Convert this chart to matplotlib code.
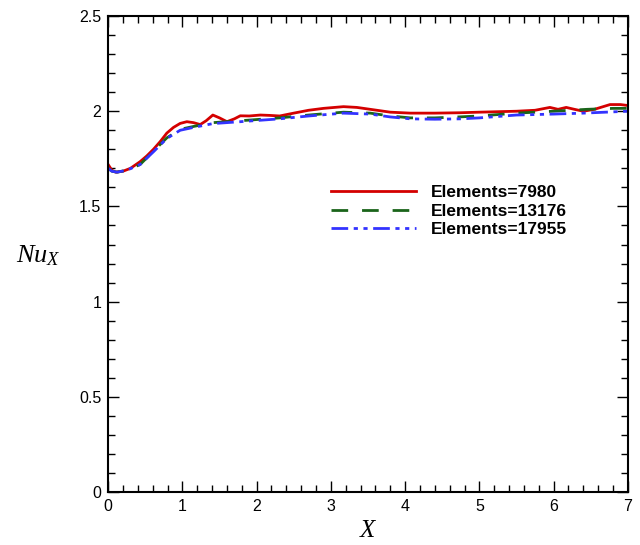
import matplotlib
matplotlib.use('Agg')
import matplotlib.pyplot as plt
from matplotlib.ticker import MultipleLocator

# data
x_7980 = [0.0, 0.05, 0.1, 0.2, 0.3, 0.43, 0.52, 0.61, 0.7, 0.79, 0.88, 0.97, 1.06, 1.15,
          1.24, 1.32, 1.41, 1.5, 1.6, 1.7, 1.78, 1.9, 2.05, 2.18, 2.31, 2.5, 2.7, 2.9,
          3.17, 3.35, 3.53, 3.8, 4.07, 4.4, 4.74, 5.0, 5.5, 5.75, 5.95, 6.06, 6.17,
          6.28, 6.4, 6.55, 6.76, 6.9, 7.0]
y_7980 = [1.72, 1.69, 1.68, 1.685, 1.70, 1.735, 1.765, 1.80, 1.84, 1.885, 1.915, 1.936,
          1.945, 1.94, 1.93, 1.95, 1.98, 1.965, 1.945, 1.96, 1.976, 1.975, 1.98, 1.978,
          1.975, 1.99, 2.005, 2.015, 2.024, 2.02, 2.01, 1.995, 1.99, 1.99, 1.992, 1.995,
          2.0, 2.005, 2.02, 2.01, 2.02, 2.01, 2.0, 2.01, 2.035, 2.035, 2.03]

x_13176 = [0.0, 0.05, 0.12, 0.25, 0.43, 0.61, 0.79, 0.97, 1.15, 1.41, 1.78, 2.31, 2.7,
           3.17, 3.53, 3.8, 4.07, 4.4, 4.72, 5.0, 5.5, 6.0, 6.45, 6.8, 7.0]
y_13176 = [1.70, 1.685, 1.68, 1.69, 1.72, 1.79, 1.86, 1.905, 1.92, 1.94, 1.95, 1.965,
           1.98, 1.995, 1.99, 1.975, 1.965, 1.965, 1.97, 1.975, 1.99, 2.0, 2.01, 2.015,
           2.015]

x_17955 = [0.0, 0.05, 0.12, 0.25, 0.43, 0.61, 0.79, 0.97, 1.15, 1.41, 1.78, 2.31, 2.7,
           3.17, 3.53, 3.8, 4.07, 4.4, 4.74, 5.0, 5.5, 6.0, 6.4, 7.0]
y_17955 = [1.70, 1.685, 1.68, 1.69, 1.72, 1.787, 1.857, 1.90, 1.915, 1.935, 1.945, 1.96,
           1.975, 1.99, 1.985, 1.97, 1.96, 1.958, 1.96, 1.965, 1.98, 1.985, 1.99, 2.0]

x_ticks = [0, 1, 2, 3, 4, 5, 6, 7]
y_ticks = [0, 0.5, 1, 1.5, 2, 2.5]
y_tick_labels = ['0', '0.5', '1', '1.5', '2', '2.5']

plt.rcParams['font.family'] = ['Liberation Sans', 'DejaVu Sans']
plt.rcParams['mathtext.fontset'] = 'custom'
plt.rcParams['mathtext.it'] = 'Liberation Serif:italic'
plt.rcParams['mathtext.rm'] = 'Liberation Serif'

fig = plt.figure(figsize=(6.4, 5.45), dpi=100)
ax = fig.add_axes([0.169, 0.0972, 0.812, 0.8734])

ax.plot(x_7980, y_7980, color='#d40000', lw=2.0, label='Elements=7980')
ax.plot(x_13176, y_13176, color='#1a641a', lw=2.0, dashes=(6, 5), label='Elements=13176')
ax.plot(x_17955, y_17955, color='#3333ff', lw=2.0, dashes=(6, 2, 1.5, 2, 1.5, 2),
        label='Elements=17955')

ax.set_xlim(0, 7)
ax.set_ylim(0, 2.5)
ax.set_xticks(x_ticks)
ax.set_yticks(y_ticks)
ax.set_yticklabels(y_tick_labels)
ax.xaxis.set_minor_locator(MultipleLocator(0.2))
ax.yaxis.set_minor_locator(MultipleLocator(0.1))
ax.tick_params(which='both', direction='in', top=True, right=True, labelsize=11.5,
               width=1.0, colors='black')
ax.tick_params(which='major', length=8, pad=5)
ax.tick_params(which='minor', length=5)
for s in ax.spines.values():
    s.set_linewidth(1.5)

ax.set_xlabel('$X$', fontsize=18, labelpad=3)
ax.set_ylabel('$Nu_X$', fontsize=19, rotation=0)
ax.yaxis.set_label_coords(-0.135, 0.47)

leg = ax.legend(loc='upper left', bbox_to_anchor=(0.398, 0.678), frameon=False,
                handlelength=4.9, handletextpad=0.85, labelspacing=0.2,
                prop={'weight': 'bold', 'size': 12.5})

fig.savefig('out.png', dpi=100)
plt.close()
